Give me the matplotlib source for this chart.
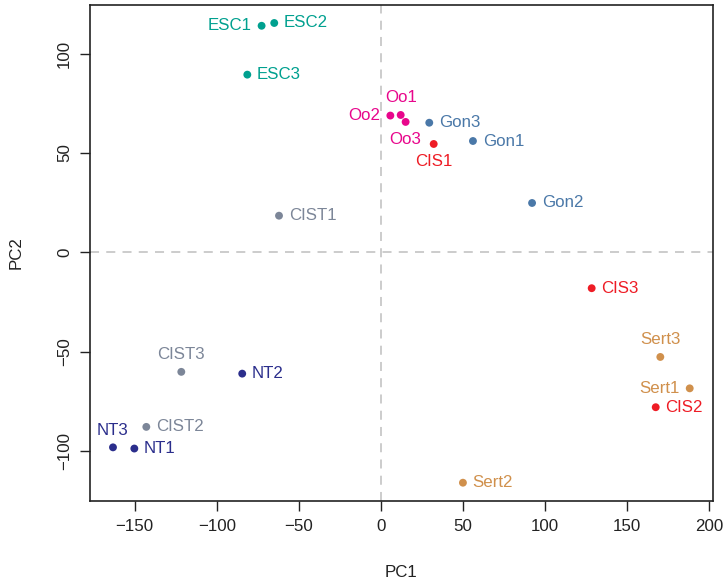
import matplotlib
matplotlib.use("Agg")
import matplotlib.pyplot as plt

plt.rcParams["font.family"] = ["Liberation Sans", "DejaVu Sans"]

samples = ["ESC1", "ESC2", "ESC3", "Oo1", "Oo2", "Oo3", "Gon1", "Gon2", "Gon3",
           "CIS1", "CIS2", "CIS3", "CIST1", "CIST2", "CIST3", "NT1", "NT2", "NT3",
           "Sert1", "Sert2", "Sert3"]
pc1 = [-72.7, -65.0, -81.4, 12.0, 5.7, 15.0, 56.0, 92.0, 29.4,
       32.1, 167.3, 128.3, -62.1, -142.9, -121.6, -150.2, -84.5, -163.2,
       188.0, 49.9, 170.1]
pc2 = [114.0, 115.4, 89.4, 69.1, 68.8, 65.6, 56.0, 24.8, 65.2,
       54.5, -78.0, -18.1, 18.4, -87.9, -60.2, -98.8, -61.1, -98.2,
       -68.5, -116.0, -52.7]
groups = ["ESC"] * 3 + ["Oo"] * 3 + ["Gon"] * 3 + ["CIS"] * 3 + ["CIST"] * 3 + ["NT"] * 3 + ["Sert"] * 3
label_side = ["left", "right", "right", "top", "left", "bottom", "right", "right", "right",
              "bottom", "right", "right", "right", "right", "top", "right", "right", "top",
              "left", "right", "top"]

colors = {"ESC": "#00A08F", "Oo": "#E8068C", "Gon": "#4A78A8", "CIS": "#EE1C25",
          "CIST": "#7C8698", "NT": "#2B2E8C", "Sert": "#D0904C"}

offsets = {"right": ((7, 0), "left", "center"), "left": ((-7, 0), "right", "center"),
           "top": ((0, 7), "center", "bottom"), "bottom": ((0, -7), "center", "top")}

fig = plt.figure(figsize=(7.24, 5.82), dpi=100)
ax = fig.add_axes([0.1243, 0.1392, 0.8601, 0.8527])

ax.axhline(0, color="#c8c8c8", lw=1.3, ls=(0, (5, 4)), zorder=1)
ax.axvline(0, color="#c8c8c8", lw=1.3, ls=(0, (5, 4)), zorder=1)

for s, x, y, g, side in zip(samples, pc1, pc2, groups, label_side):
    c = colors[g]
    ax.scatter(x, y, s=32, color=c, edgecolors="none", zorder=3)
    off, ha, va = offsets[side]
    ax.annotate(s, (x, y), xytext=off, textcoords="offset points", ha=ha, va=va,
                color=c, fontsize=12.2)

ax.set_xlim(-177.2, 202)
ax.set_ylim(-125.2, 124.6)
ax.set_xticks([-150, -100, -50, 0, 50, 100, 150, 200])
ax.set_yticks([-100, -50, 0, 50, 100])
ax.set_xticklabels(["\u2212150", "\u2212100", "\u221250", "0", "50", "100", "150", "200"])
ax.set_yticklabels(["\u2212100", "\u221250", "0", "50", "100"], rotation=90, va="center")
ax.tick_params(direction="out", length=7, width=1, labelsize=12.2, color="#222222", labelcolor="#222222", pad=6)
for sp in ax.spines.values():
    sp.set_linewidth(1.2)
    sp.set_color("#222222")

ax.set_xlabel("PC1", fontsize=12.2, labelpad=22, color="#222222")
ax.set_ylabel("PC2", fontsize=12.2, labelpad=24, color="#222222")

fig.savefig("out.png", dpi=100)
